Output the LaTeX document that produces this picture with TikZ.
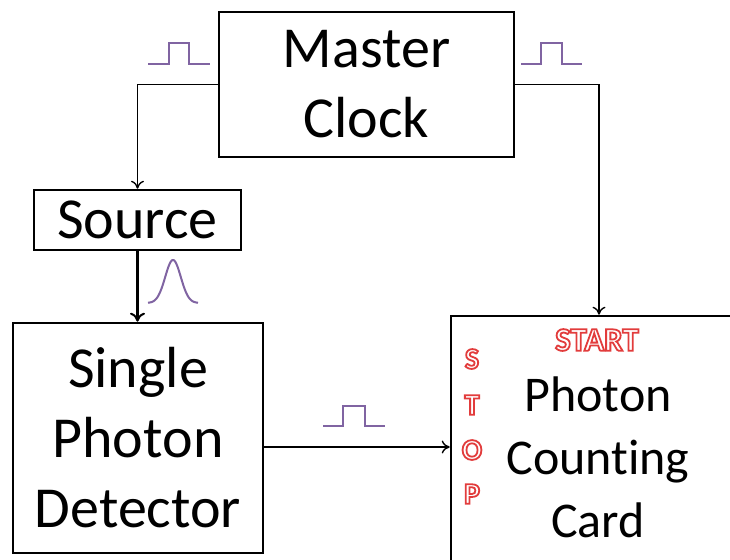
\documentclass[tikz,border=0pt]{standalone}
\usepackage{fontspec}
\setmainfont{Carlito}[Ligatures=NoCommon]
\usetikzlibrary{arrows.meta,calc}
\definecolor{pulse}{RGB}{128,100,162}
\newcommand\outltxt[1]{{\color{white}\special{pdf:literal direct 2 Tr 1.8 w 0.886 0.235 0.235 RG}#1\special{pdf:literal direct 0 Tr}}}
\begin{document}
\begin{tikzpicture}[x=1pt,y=-1pt,
  box/.style={draw,line width=2.6pt,inner sep=0pt,align=center,
    font=\fontsize{58}{70}\selectfont},
  conn/.style={line width=1.4pt,-{To[length=8pt,width=13pt,line width=1.4pt]}},
  thickconn/.style={line width=2.6pt,-{To[length=9pt,width=15pt,line width=2pt]}},
  pulseline/.style={pulse,line width=2pt,line join=miter},
  outl/.style={font=\fontsize{30}{30}\selectfont\bfseries,inner sep=0pt}]
\clip (0,0) rectangle (730,559);
\fill[white] (0,0) rectangle (730,559);
% boxes
\node[box,minimum width=295pt,minimum height=145pt] (mc) at (366.5,84.5) {Master\\Clock};
\node[box,minimum width=207pt,minimum height=60pt] (src) at (137.5,220) {Source};
\node[box,minimum width=250pt,minimum height=230pt] (spd) at (138,438) {Single\\Photon\\Detector};
\node[box,minimum width=296pt,minimum height=262pt] (pcc) at (599,447) {};
\node[align=center,inner sep=0pt,font=\fontsize{50}{63}\selectfont] (pcctext) at (598,457) {Photon\\Counting\\Card};
% connectors
\draw[conn] (mc.west) -| (src.north);
\draw[conn] (mc.east) -| (pcc.north);
\draw[thickconn] (src.south) -- (src.south |- spd.north);
\coordinate (sa) at ($(spd.east)+(0,9)$);
\draw[conn] (sa) -- (sa -| pcc.west);
% pulses
\draw[pulseline] (148,64) -- (169,64) -- (169,43) -- (189,43) -- (189,64) -- (210,64);
\draw[pulseline] (521,64) -- (541,64) -- (541,43) -- (562,43) -- (562,64) -- (582,64);
\draw[pulseline] (323,426) -- (343,426) -- (343,406) -- (365,406) -- (365,426) -- (385,426);
\draw[pulseline] plot[domain=148:198,samples=80,smooth] (\x,{303-43*exp(-((\x-173)/11)^2)});
% outlined labels
\node[outl,font=\fontsize{33}{33}\selectfont\bfseries] (start) at (597,340) {\outltxt{START}};
\node[outl] (stops) at (472,359) {\outltxt{S}};
\node[outl] (stopt) at (472,405) {\outltxt{T}};
\node[outl] (stopo) at (472,450) {\outltxt{O}};
\node[outl] (stopp) at (472,494) {\outltxt{P}};
\end{tikzpicture}
\end{document}
